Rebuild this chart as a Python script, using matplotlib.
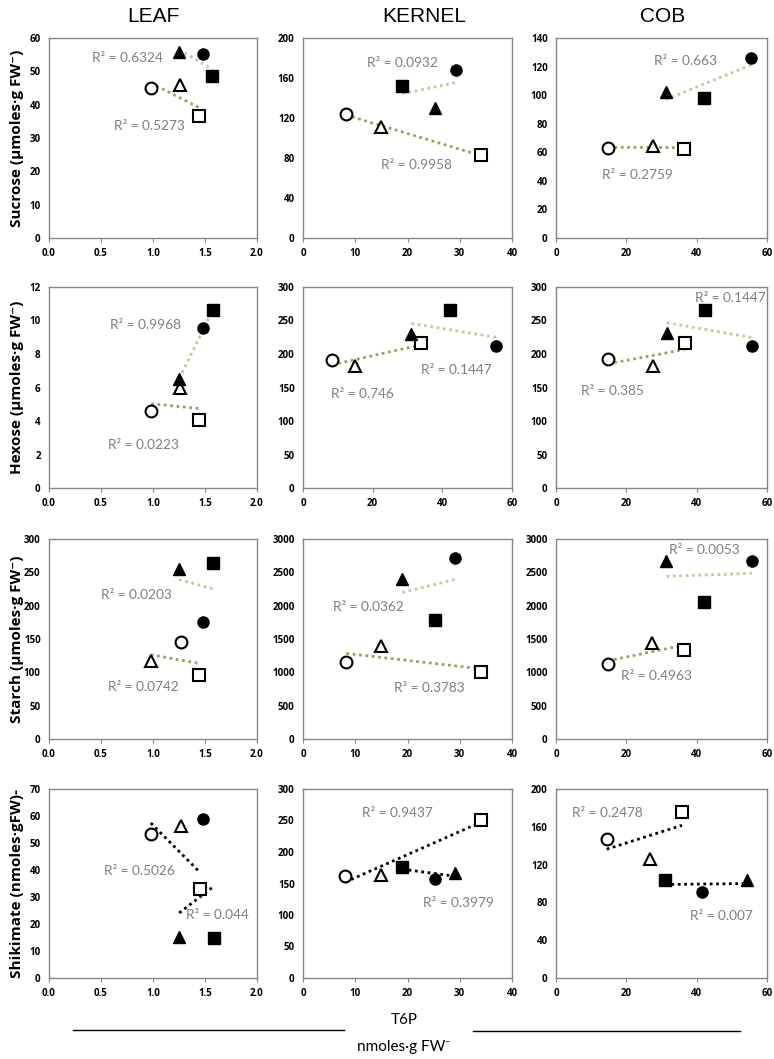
import numpy as np
import matplotlib.pyplot as plt

# marker order in every panel:
# open circle, open triangle, open square, filled triangle, filled circle, filled square
markers = ["o", "^", "s", "^", "o", "s"]
filled = [False, False, False, True, True, True]

# Sucrose
sucrose_leaf_x = [0.977, 1.258, 1.445, 1.25, 1.477, 1.57]
sucrose_leaf_y = [45.0, 46.0, 36.7, 55.7, 55.2, 48.5]
sucrose_kernel_x = [8.2, 15.0, 34.1, 25.3, 29.3, 19.0]
sucrose_kernel_y = [124, 111, 82.7, 130.3, 168.2, 152.4]
sucrose_cob_x = [14.8, 27.5, 36.5, 31.2, 55.5, 42.1]
sucrose_cob_y = [63, 64.6, 62.5, 102.5, 125.7, 97.7]

# Hexose
hexose_leaf_x = [0.982, 1.258, 1.446, 1.254, 1.48, 1.578]
hexose_leaf_y = [4.58, 5.97, 4.08, 6.5, 9.55, 10.6]
hexose_kernel_x = [8.3, 14.8, 33.8, 31.1, 55.5, 42.1]
hexose_kernel_y = [191, 182, 216, 230, 212, 265]
hexose_cob_x = [14.8, 27.5, 36.6, 31.5, 55.8, 42.3]
hexose_cob_y = [192, 182, 216, 231, 212, 265]

# Starch
starch_leaf_x = [1.27, 0.977, 1.446, 1.25, 1.479, 1.573]
starch_leaf_y = [145, 116.5, 96.5, 255, 175, 264]
starch_kernel_x = [8.3, 14.9, 34.0, 19.0, 29.1, 25.2]
starch_kernel_y = [1159, 1393, 1010, 2403, 2716, 1791]
starch_cob_x = [14.7, 27.4, 36.3, 31.4, 55.7, 42.2]
starch_cob_y = [1121, 1435, 1335, 2666, 2666, 2053]

# Shikimate
shik_leaf_x = [0.979, 1.268, 1.448, 1.252, 1.477, 1.583]
shik_leaf_y = [53.5, 56.4, 33.0, 15.1, 58.9, 14.8]
shik_kernel_x = [8.1, 14.9, 34.1, 29.1, 25.3, 19.0]
shik_kernel_y = [162, 164, 251, 167, 157, 176]
shik_cob_x = [14.4, 26.8, 35.8, 54.4, 41.4, 31.0]
shik_cob_y = [146.8, 126, 176, 103.9, 90.5, 103.9]

col_titles = ["LEAF", "KERNEL", "COB"]
row_labels = ["Sucrose (µmoles·g FW⁻)", "Hexose (µmoles·g FW⁻)",
              "Starch (µmoles·g FW⁻)", "Shikimate (nmoles·gFW)-"]

data = [
    [(sucrose_leaf_x, sucrose_leaf_y), (sucrose_kernel_x, sucrose_kernel_y), (sucrose_cob_x, sucrose_cob_y)],
    [(hexose_leaf_x, hexose_leaf_y), (hexose_kernel_x, hexose_kernel_y), (hexose_cob_x, hexose_cob_y)],
    [(starch_leaf_x, starch_leaf_y), (starch_kernel_x, starch_kernel_y), (starch_cob_x, starch_cob_y)],
    [(shik_leaf_x, shik_leaf_y), (shik_kernel_x, shik_kernel_y), (shik_cob_x, shik_cob_y)],
]

# R² labels per panel
r2_text = [
    [["0.6324", "0.5273"], ["0.0932", "0.9958"], ["0.663", "0.2759"]],
    [["0.9968", "0.0223"], ["0.1447", "0.746"], ["0.1447", "0.385"]],
    [["0.0203", "0.0742"], ["0.0362", "0.3783"], ["0.0053", "0.4963"]],
    [["0.5026", "0.044"], ["0.9437", "0.3979"], ["0.2478", "0.007"]],
]
# label positions (axes fraction)
r2_pos = [
    [[(0.377, 0.90), (0.483, 0.56)], [(0.478, 0.875), (0.545, 0.365)], [(0.613, 0.885), (0.387, 0.315)]],
    [[(0.464, 0.81), (0.455, 0.214)], [(0.733, 0.587), (0.286, 0.468)], [(0.826, 0.945), (0.269, 0.483)]],
    [[(0.42, 0.72), (0.454, 0.26)], [(0.314, 0.66), (0.605, 0.255)], [(0.703, 0.945), (0.476, 0.315)]],
    [[(0.435, 0.566), (0.808, 0.333)], [(0.45, 0.873), (0.746, 0.397)], [(0.242, 0.873), (0.782, 0.328)]],
]

xlims = [
    [(0, 2, 0.5), (0, 40, 10), (0, 60, 20)],
    [(0, 2, 0.5), (0, 60, 20), (0, 60, 20)],
    [(0, 2, 0.5), (0, 40, 10), (0, 60, 20)],
    [(0, 2, 0.5), (0, 40, 10), (0, 60, 20)],
]
ylims = [
    [(0, 60, 10), (0, 200, 40), (0, 140, 20)],
    [(0, 12, 2), (0, 300, 50), (0, 300, 50)],
    [(0, 300, 50), (0, 3000, 500), (0, 3000, 500)],
    [(0, 70, 10), (0, 300, 50), (0, 200, 40)],
]

W, H = 774, 1059
fig = plt.figure(figsize=(W / 100, H / 100), dpi=100)

rows_px = [(38, 238), (287, 488), (539, 739), (789, 978)]
cols_px = [(49, 257), (303, 512), (556, 767)]

spine_col = "#868686"
tick_font = {"family": ["Open Sans", "DejaVu Sans"], "weight": "bold", "size": 7}

for r in range(4):
    top, bot = rows_px[r]
    for c in range(3):
        left, right = cols_px[c]
        ax = fig.add_axes([left / W, 1 - bot / H, (right - left) / W, (bot - top) / H])
        xs, ys = data[r][c]
        xs = np.array(xs)
        ys = np.array(ys)

        # trend lines for open and filled groups
        for grp, col in ((slice(0, 3), "#98a35a"), (slice(3, 6), "#cdc49a")):
            gx, gy = xs[grp], ys[grp]
            k, b = np.polyfit(gx, gy, 1)
            lx = np.array([gx.min(), gx.max()])
            if r == 3:
                col = "black"
            ax.plot(lx, k * lx + b, linestyle=(0, (1, 1.3)), color=col, lw=2, zorder=2)

        for i in range(6):
            if filled[i]:
                ax.plot(xs[i], ys[i], marker=markers[i], ms=8, color="black",
                        mec="black", linestyle="none", zorder=3)
            else:
                ax.plot(xs[i], ys[i], marker=markers[i], ms=8.5, mfc="white",
                        mec="black", mew=1.5, linestyle="none", zorder=3)

        for txt, (fx, fy) in zip(r2_text[r][c], r2_pos[r][c]):
            ax.text(fx, fy, "R² = " + txt, transform=ax.transAxes, ha="center",
                    va="center", color="#7f7f7f", fontsize=9.8, family="Lato")

        x0, x1, dx = xlims[r][c]
        y0, y1, dy = ylims[r][c]
        ax.set_xlim(x0, x1)
        ax.set_ylim(y0, y1)
        ax.set_xticks(np.arange(x0, x1 + dx / 2, dx))
        ax.set_yticks(np.arange(y0, y1 + dy / 2, dy))
        if c == 0:
            ax.set_xticklabels([f"{v:.1f}" for v in ax.get_xticks()])
        else:
            ax.set_xticklabels([f"{v:g}" for v in ax.get_xticks()])
        ax.set_yticklabels([f"{v:g}" for v in ax.get_yticks()])
        for lab in ax.get_xticklabels() + ax.get_yticklabels():
            lab.set_fontproperties(tick_font)
        ax.tick_params(length=3, color=spine_col, pad=4)
        ax.tick_params(axis="y", length=0, pad=6)
        for s in ax.spines.values():
            s.set_color(spine_col)
            s.set_linewidth(1)

    fig.text(17 / W, 1 - (top + bot) / 2 / H, row_labels[r], rotation=90,
             ha="center", va="center", fontsize=11, weight="bold",
             family=["Open Sans", "DejaVu Sans"])

title_x = [153, 424, 663]
for t, x in zip(col_titles, title_x):
    fig.text(x / W, 1 - 16 / H, t, ha="center", va="center", fontsize=15,
             family=["Liberation Sans Narrow", "Liberation Sans", "DejaVu Sans"])

fig.text(404 / W, 1 - 1020 / H, "T6P", ha="center", va="center", fontsize=11,
         family="Lato")
fig.text(404 / W, 1 - 1047 / H, "nmoles·g FW⁻", ha="center", va="center",
         fontsize=11, family="Lato")
fig.add_artist(plt.Line2D([73 / W, 344 / W], [1 - 1030 / H, 1 - 1030 / H],
                          color="black", lw=1))
fig.add_artist(plt.Line2D([473 / W, 740 / W], [1 - 1031 / H, 1 - 1031 / H],
                          color="black", lw=1))

fig.savefig("out.png", dpi=100)
